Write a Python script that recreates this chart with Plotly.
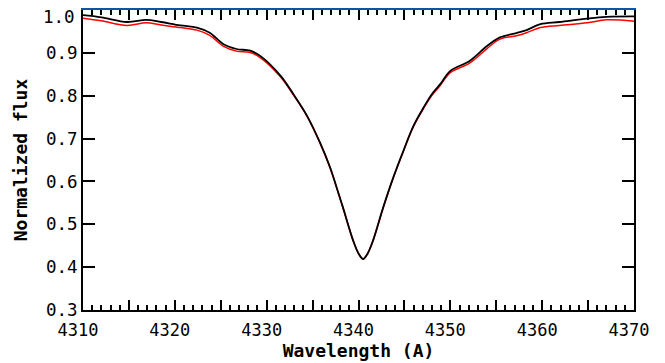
import plotly.graph_objects as go

# Wavelength grid (Angstrom)
wavelength = [4310.0, 4312.0, 4314.8, 4316.9, 4318.5, 4320.6, 4322.4, 4323.8,
              4325.3, 4326.7, 4328.2, 4329.3, 4331.5, 4332.9, 4334.4, 4335.8,
              4336.9, 4337.9, 4338.3, 4339.4, 4340.0, 4340.5, 4341.0, 4341.6,
              4342.7, 4343.8, 4344.9, 4346.0, 4347.1, 4348.0, 4348.9, 4350.0,
              4352.1, 4354.0, 4355.4, 4357.2, 4358.3, 4359.8, 4361.9, 4364.9,
              4367.0, 4370.0]

# Black spectrum
flux_black = [0.988, 0.983, 0.972, 0.977, 0.972, 0.964, 0.959, 0.947,
              0.920, 0.909, 0.905, 0.893, 0.847, 0.804, 0.753, 0.691,
              0.633, 0.567, 0.540, 0.463, 0.432, 0.419, 0.432, 0.463,
              0.540, 0.610, 0.672, 0.730, 0.773, 0.804, 0.827, 0.858,
              0.881, 0.916, 0.936, 0.946, 0.953, 0.967, 0.972, 0.980,
              0.984, 0.985]

# Red spectrum
flux_red = [0.981, 0.975, 0.964, 0.970, 0.965, 0.959, 0.953, 0.941,
            0.915, 0.904, 0.901, 0.889, 0.844, 0.802, 0.752, 0.690,
            0.632, 0.566, 0.539, 0.463, 0.432, 0.419, 0.432, 0.463,
            0.539, 0.609, 0.671, 0.729, 0.771, 0.801, 0.824, 0.854,
            0.876, 0.910, 0.932, 0.940, 0.947, 0.959, 0.964, 0.970,
            0.977, 0.974]

x_tick_vals = [4310, 4315, 4320, 4325, 4330, 4335, 4340, 4345, 4350, 4355,
               4360, 4365, 4370]
x_tick_text = ["4310", "", "4320", "", "4330", "", "4340", "", "4350", "",
               "4360", "", "4370"]
y_tick_vals = [0.3, 0.4, 0.5, 0.6, 0.7, 0.8, 0.9, 1.0]
y_tick_text = ["0.3", "0.4", "0.5", "0.6", "0.7", "0.8", "0.9", ""]
y_top_label = "1.0"

FONT = "DejaVu Sans Mono"

fig = go.Figure()
fig.add_trace(go.Scatter(x=wavelength, y=flux_red, mode="lines",
                         line=dict(color="#ff0000", width=1.5, shape="spline", smoothing=1.0),
                         showlegend=False, hoverinfo="skip"))
fig.add_trace(go.Scatter(x=wavelength, y=flux_black, mode="lines",
                         line=dict(color="#000000", width=1.8, shape="spline", smoothing=1.0),
                         showlegend=False, hoverinfo="skip"))
# invisible trace to carry the top axis
fig.add_trace(go.Scatter(x=wavelength, y=flux_black, mode="lines", xaxis="x2",
                         line=dict(width=0), opacity=0, showlegend=False, hoverinfo="skip"))

common_x = dict(range=[4310, 4370], tickmode="array", tickvals=x_tick_vals,
                ticks="inside", ticklen=10, tickwidth=2, tickcolor="black",
                showline=True, linewidth=2, showgrid=False, zeroline=False,
                automargin=False,
                minor=dict(tickmode="linear", tick0=4310, dtick=1, ticks="inside",
                           ticklen=5, tickwidth=2, tickcolor="black", showgrid=False))

fig.update_layout(
    width=657, height=355,
    margin=dict(l=75, r=31, t=2, b=53),
    paper_bgcolor="white", plot_bgcolor="white",
    font=dict(family=FONT, color="black"),
    xaxis=dict(**common_x, ticktext=x_tick_text, linecolor="black", mirror=False,
               tickfont=dict(family=FONT, size=17), ticklabelstandoff=4,
               ticklabelshift=-5, ticklabeloverflow="allow",
               title=dict(text="Wavelength (A)", font=dict(family=FONT, size=18, weight="bold"),
                          standoff=2)),
    xaxis2=dict(**common_x, overlaying="x", side="top", linecolor="#0a55a8",
                showticklabels=False),
    yaxis=dict(range=[0.3, 1.0], tickmode="array", tickvals=y_tick_vals, ticktext=y_tick_text,
               ticks="inside", ticklen=12, tickwidth=2, tickcolor="black",
               showline=True, linewidth=2, linecolor="black", mirror="ticks",
               showgrid=False, zeroline=False, ticklabelstandoff=0, automargin=False,
               ticklabeloverflow="allow",
               tickfont=dict(family=FONT, size=17.5),
               title=dict(text="Normalized flux", font=dict(family=FONT, size=18, weight="bold"),
                          standoff=14)),
    annotations=[dict(text=y_top_label, x=0, y=1.0, xref="paper", yref="y",
                      xanchor="right", yanchor="middle", xshift=-6, yshift=-7,
                      showarrow=False, font=dict(family=FONT, size=17.5))],
)

fig.write_html("out.html")
